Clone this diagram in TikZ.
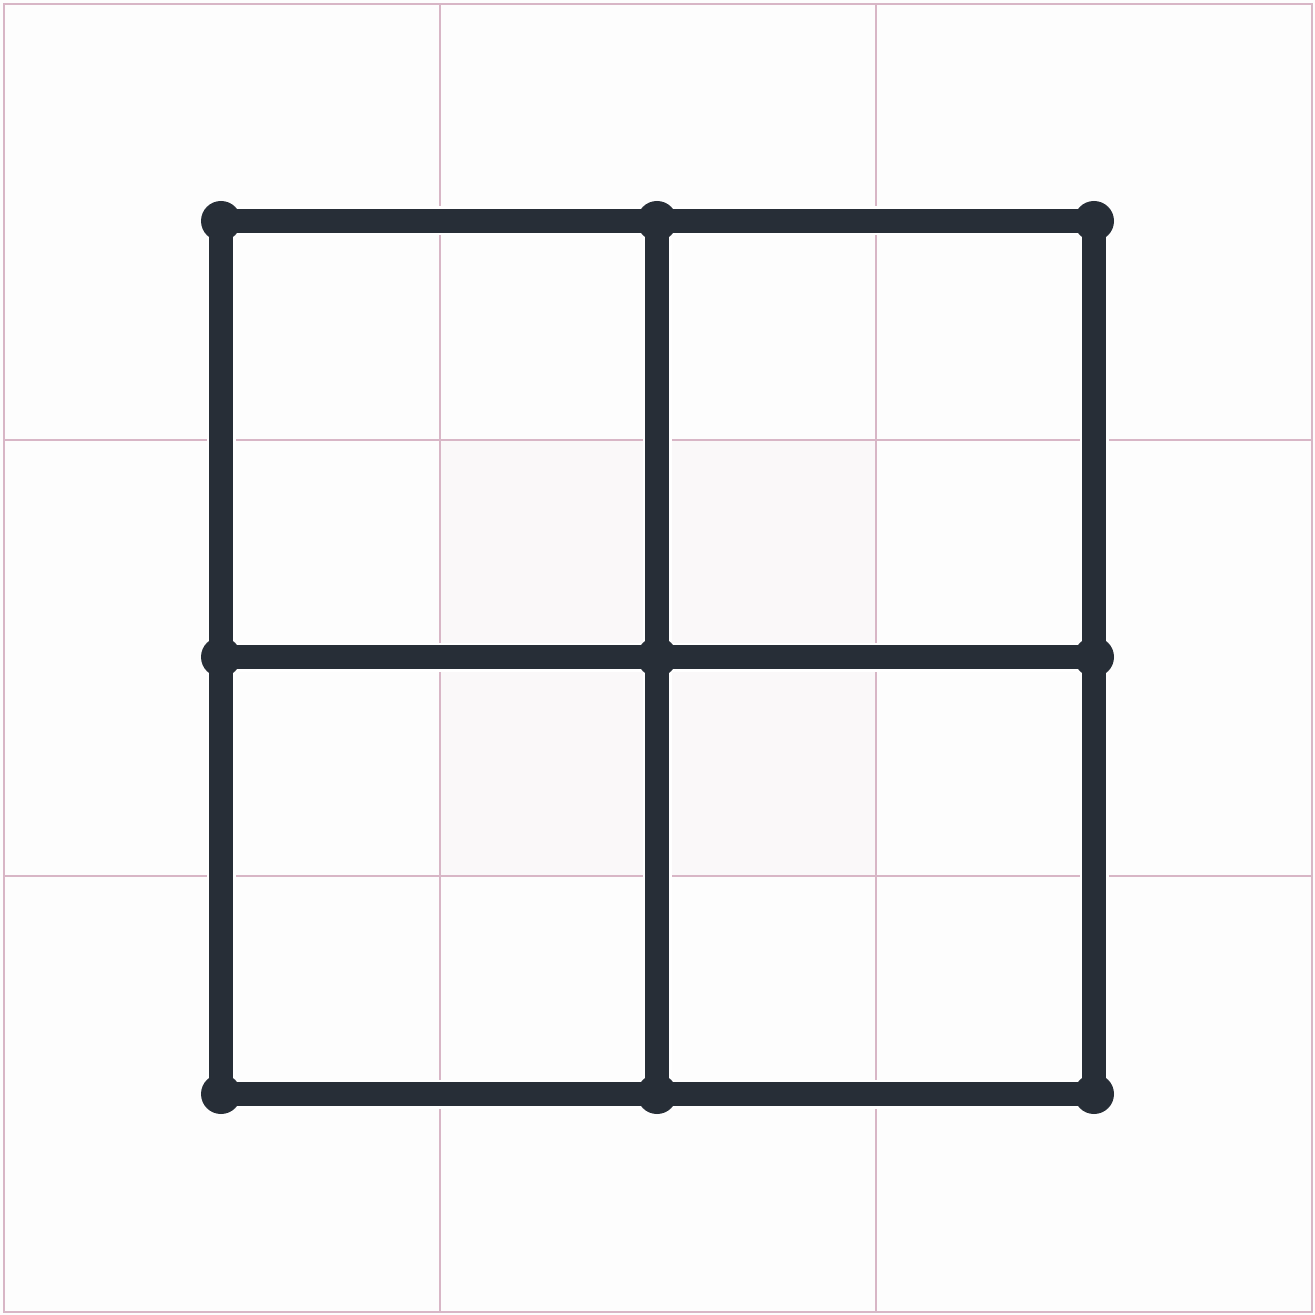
\documentclass[tikz,border=0pt]{standalone}
\definecolor{bgc}{HTML}{FDFDFD}
\definecolor{tintc}{HTML}{FAF8F9}
\definecolor{gridc}{HTML}{D8B6C6}
\definecolor{inkc}{HTML}{272E37}
\tikzset{
  thin grid/.style={draw=gridc, line width=1pt},
  halo/.style={draw=white, line width=14.5pt},
  bar/.style={draw=inkc, line width=12pt},
  dot/.style={circle, fill=inkc, minimum size=20pt, inner sep=0pt, outer sep=0pt}
}
\begin{document}
\begin{tikzpicture}[x=0.5pt,y=-0.5pt]
\useasboundingbox (0,0) rectangle (1315,1315);
\fill[bgc] (0,0) rectangle (1315,1315);
\fill[tintc] (440,440) rectangle (876,876);
% light grid
\draw[thin grid] (4,4) rectangle (1312,1312);
\foreach \v in {440,876} {
  \draw[thin grid] (\v,4) -- (\v,1312);
  \draw[thin grid] (4,\v) -- (1312,\v);
}
% lattice points
\foreach \i/\x in {0/221,1/657,2/1094} {
  \foreach \j/\y in {0/221,1/657,2/1094} {
    \coordinate (p\i\j) at (\x,\y);
  }
}
% halos
\foreach \k in {0,1,2} {
  \draw[halo] (p0\k) -- (p1\k) -- (p2\k);
  \draw[halo] (p\k0) -- (p\k1) -- (p\k2);
}
% bars
\foreach \k in {0,1,2} {
  \draw[bar] (p0\k) -- (p1\k) -- (p2\k);
  \draw[bar] (p\k0) -- (p\k1) -- (p\k2);
}
% dots
\foreach \i in {0,1,2} {
  \foreach \j in {0,1,2} {
    \node[dot] (d\i\j) at (p\i\j) {};
  }
}
\end{tikzpicture}
\end{document}
